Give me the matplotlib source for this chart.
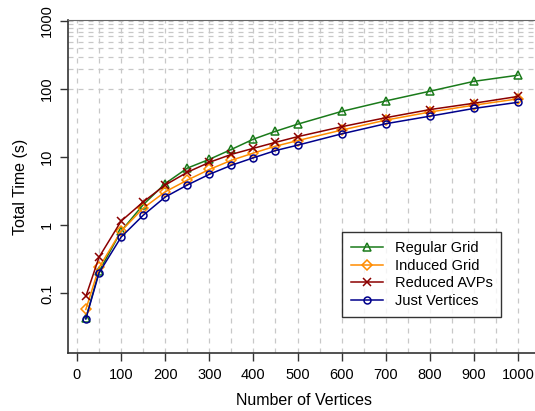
import matplotlib
matplotlib.use("Agg")
import matplotlib.pyplot as plt
from matplotlib.ticker import FixedLocator, NullLocator

plt.rcParams['font.family'] = ['Liberation Sans', 'DejaVu Sans']

x_vals = [20, 50, 100, 150, 200, 250, 300, 350, 400, 450, 500, 600, 700, 800, 900, 1000]
regular_grid = [0.043, 0.21, 0.82, 2.0, 4.1, 6.9, 9.3, 13, 18.4, 24, 30.5, 47, 67, 93, 130, 160]
induced_grid = [0.058, 0.24, 0.82, 1.78, 3.1, 4.6, 6.6, 9.0, 11.5, 14.5, 17.5, 25, 35, 46, 58, 72]
reduced_avps = [0.09, 0.34, 1.15, 2.2, 3.9, 6.0, 8.4, 11, 13.5, 16.5, 20, 28, 38, 50, 62, 78]
just_vertices = [0.042, 0.2, 0.67, 1.4, 2.6, 3.9, 5.6, 7.6, 9.8, 12.5, 15, 22, 31, 40, 52, 64]

series_labels = ["Regular Grid", "Induced Grid", "Reduced AVPs", "Just Vertices"]
x_ticks = [0, 100, 200, 300, 400, 500, 600, 700, 800, 900, 1000]
y_ticks = [0.1, 1, 10, 100, 1000]
y_tick_labels = ["0.1", "1", "10", "100", "1000"]

W, H = 535, 411
fig = plt.figure(figsize=(W / 100, H / 100), dpi=100)
ax = fig.add_axes([68 / W, 1 - 353 / H, (W - 68) / W + 0.01, (353 - 20) / H])

ax.set_yscale('log')
ax.set_xlim(-20.4, 1038.5 + 0.01 * W / 0.441)
ax.set_ylim(0.0133, 1035)

# grid lines
for gx in range(0, 1001, 50):
    ax.axvline(gx, color='#c8c8c8', lw=0.9, ls=(0, (4, 4)), zorder=0)
for gy in range(100, 1001, 100):
    ax.axhline(gy, color='#c8c8c8', lw=0.9, ls=(0, (4, 4)), zorder=0)

styles = [
    dict(color='#1a7a1a', marker='^', mfc='none', ms=6, mew=1.1),
    dict(color='#ff8c00', marker='D', mfc='none', ms=5, mew=1.1),
    dict(color='#8b0000', marker='x', ms=6, mew=1.1),
    dict(color='#00008b', marker='o', mfc='none', ms=5, mew=1.1),
]
for ys, lab, st in zip([regular_grid, induced_grid, reduced_avps, just_vertices], series_labels, styles):
    ax.plot(x_vals, ys, lw=1.1, label=lab, **st)

ax.xaxis.set_major_locator(FixedLocator(x_ticks))
ax.yaxis.set_major_locator(FixedLocator(y_ticks))
ax.yaxis.set_minor_locator(NullLocator())
ax.set_yticklabels(y_tick_labels, rotation=90, va='center')
ax.tick_params(axis='both', direction='out', length=6, width=1, labelsize=10.5, color='#333333')
ax.tick_params(axis='y', pad=4)
ax.tick_params(axis='x', pad=5)

for s in ['left', 'bottom']:
    ax.spines[s].set_color('#333333')
    ax.spines[s].set_linewidth(1.2)
ax.spines['top'].set_color('#666666')
ax.spines['right'].set_visible(False)

ax.set_xlabel("Number of Vertices", fontsize=11.5, labelpad=8)
ax.set_ylabel("Total Time (s)", fontsize=11.5, labelpad=9)

leg = ax.legend(loc='upper left', bbox_to_anchor=((335 - 68) / (W - 68 + 0.01 * W), (353 - 225) / 333),
                frameon=True, fancybox=False, edgecolor='black', fontsize=10.5,
                handlelength=2.2, borderpad=0.6, labelspacing=0.25, handletextpad=0.8)
leg.get_frame().set_linewidth(1.0)

fig.savefig("out.png", dpi=100)
